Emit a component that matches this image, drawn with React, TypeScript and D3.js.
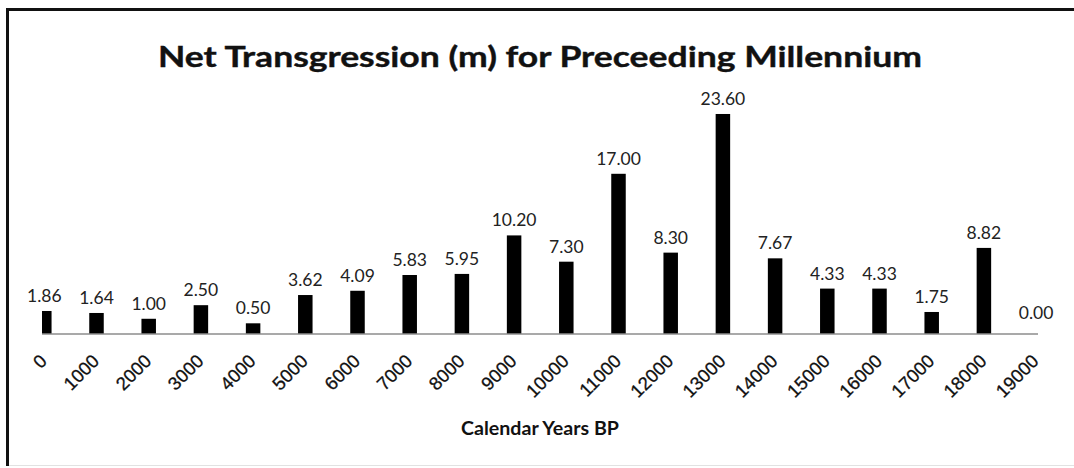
import React from "react";
import * as d3 from "d3";

// values
const years = [
  "0", "1000", "2000", "3000", "4000", "5000", "6000", "7000", "8000", "9000",
  "10000", "11000", "12000", "13000", "14000", "15000", "16000", "17000", "18000", "19000",
];
const transgression = [
  1.86, 1.64, 1.0, 2.5, 0.5, 3.62, 4.09, 5.83, 5.95, 10.2,
  7.3, 17.0, 8.3, 23.6, 7.67, 4.33, 4.33, 1.75, 8.82, 0.0,
];
const yDomain = [-0.68, 25];

const title = "Net Transgression (m) for Preceeding Millennium";
const xTitle = "Calendar Years BP";

const W = 1074;
const H = 468;
const baseY = 334;

export default function App() {
  const x = d3.scalePoint<string>().domain(years).range([44.3, 1036.1]);
  const y = d3.scaleLinear().domain(yDomain).range([baseY, 101.3]);
  const barW = 14.5;

  return (
    <svg
      width={W}
      height={H}
      style={{ position: "absolute", left: 0, top: 0, display: "block", background: "#fff" }}
    >
      <defs>
        <clipPath id="plotClip">
          <rect x={42} y={0} width={998} height={baseY} />
        </clipPath>
      </defs>

      {/* frame */}
      <line x1={7.5} y1={9.5} x2={W} y2={9.5} stroke="#111" strokeWidth={3} />
      <line x1={7.5} y1={8} x2={7.5} y2={466} stroke="#111" strokeWidth={3} />
      <line x1={9} y1={465.5} x2={W} y2={465.5} stroke="#e2e2e2" strokeWidth={1} />

      <text
        x={540}
        y={67}
        textAnchor="middle"
        fontFamily="Lato, 'Open Sans', sans-serif"
        fontWeight="bold"
        fontSize={29}
        fill="#111"
        stroke="#111"
        strokeWidth={0.4}
        textLength={764}
        lengthAdjust="spacingAndGlyphs"
      >
        {title}
      </text>

      {/* bars */}
      <g clipPath="url(#plotClip)">
        {years.map((k, i) =>
          transgression[i] > 0 ? (
            <rect
              key={k}
              x={(x(k) as number) - barW / 2}
              y={y(transgression[i])}
              width={barW}
              height={baseY - y(transgression[i])}
              fill="#000"
            />
          ) : null
        )}
      </g>

      {/* data labels */}
      {years.map((k, i) => (
        <text
          key={"l" + k}
          x={x(k) as number}
          y={y(transgression[i]) - 9}
          textAnchor="middle"
          fontFamily="Lato, 'Open Sans', sans-serif"
          fontSize={17.5}
          fill="#222"
        >
          {transgression[i].toFixed(2)}
        </text>
      ))}

      {/* axis */}
      <line x1={42} y1={baseY} x2={1038} y2={baseY} stroke="#8c8c8c" strokeWidth={1.5} />
      {years.map((k) => (
        <text
          key={"t" + k}
          transform={`translate(${(x(k) as number) - 5.5},353) rotate(-45)`}
          dy="0.71em"
          textAnchor="end"
          fontFamily="'Liberation Sans', Arial, sans-serif"
          fontSize={18.5}
          fill="#111"
          stroke="#111"
          strokeWidth={0.3}
        >
          {k}
        </text>
      ))}

      <text
        x={540}
        y={435}
        textAnchor="middle"
        fontFamily="Lato, 'Open Sans', sans-serif"
        fontWeight="bold"
        fontSize={18}
        fill="#111"
        textLength={158}
        lengthAdjust="spacingAndGlyphs"
      >
        {xTitle}
      </text>
    </svg>
  );
}
